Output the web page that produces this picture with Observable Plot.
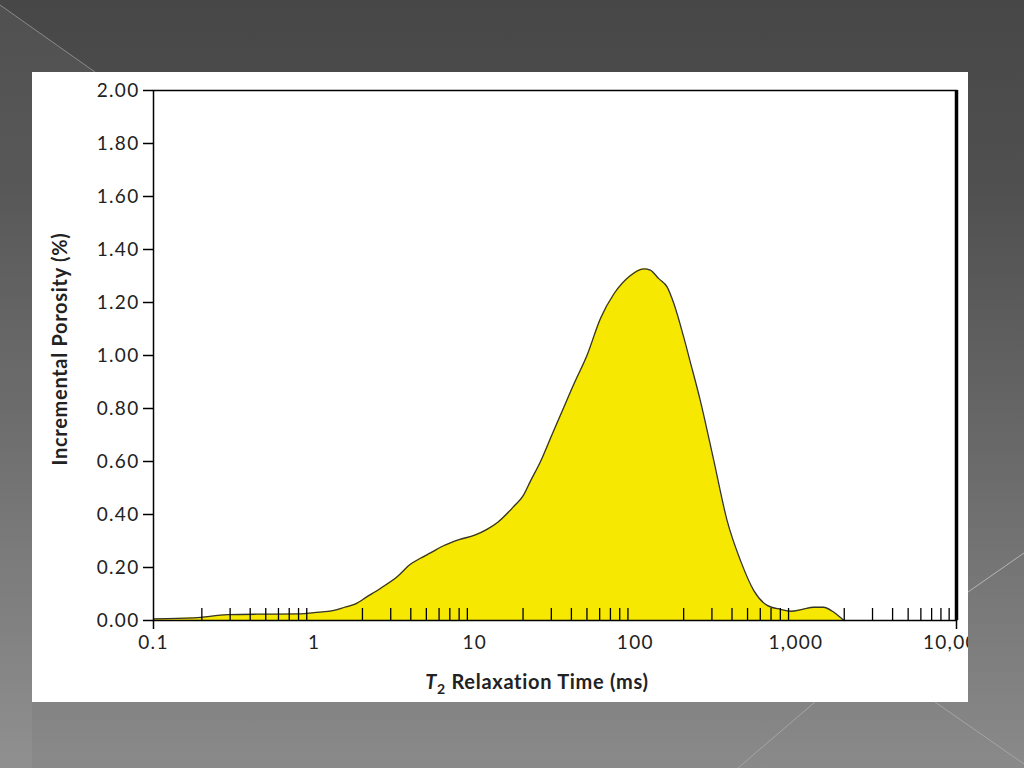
<!DOCTYPE html>
<html>
<head>
<meta charset="utf-8">
<script src="https://cdn.jsdelivr.net/npm/d3@7"></script>
<script src="https://cdn.jsdelivr.net/npm/@observablehq/plot@0.6"></script>
<style>
  html, body { margin: 0; padding: 0; }
  body {
    width: 1024px; height: 768px; position: relative; overflow: hidden;
    background: linear-gradient(180deg, #474747 0%, #505050 25%, #6a6a6a 60%, #8a8a8a 100%);
  }
  #deco { position: absolute; left: 0; top: 0; }
  #panel {
    position: absolute; left: 32px; top: 72px; width: 936px; height: 630px;
    background: #fff; overflow: hidden;
  }
</style>
</head>
<body>
<svg id="deco" width="1024" height="768">
  <polygon points="0,5 95,72 32,72 32,768 0,768" fill="#ffffff" fill-opacity="0.05"/>
  <line x1="0" y1="5" x2="95" y2="72" stroke="#8a8a8a" stroke-width="1"/>
  <line x1="968" y1="592" x2="1024" y2="553" stroke="#b5b5b5" stroke-width="1"/>
  <line x1="815" y1="702" x2="738" y2="768" stroke="#a5a5a5" stroke-width="1"/>
  <line x1="935" y1="702" x2="1024" y2="764" stroke="#a5a5a5" stroke-width="1"/>
</svg>
<div id="panel"></div>
<script>
// Data
const t2Times = [0.1, 0.18, 0.29, 0.5, 0.82, 1.0, 1.33, 1.55, 1.8, 2.14, 2.6, 3.29, 3.98, 4.6, 5.3, 6.4, 8.0, 10, 12, 14, 17.5, 20, 22.2, 25.7, 30, 35.9, 42, 50, 60.7, 73.7, 92.5, 113, 124, 140, 158, 174, 200, 219, 254, 308, 373, 452, 547, 663, 802, 929, 1100, 1291, 1485, 1723, 1941, 2000];
const porosity = [0.006, 0.01, 0.022, 0.024, 0.025, 0.03, 0.038, 0.05, 0.062, 0.09, 0.122, 0.165, 0.212, 0.235, 0.255, 0.282, 0.305, 0.322, 0.345, 0.372, 0.43, 0.47, 0.525, 0.6, 0.695, 0.805, 0.9, 1.0, 1.14, 1.233, 1.30, 1.327, 1.322, 1.29, 1.258, 1.195, 1.07, 0.98, 0.83, 0.604, 0.377, 0.226, 0.113, 0.057, 0.042, 0.035, 0.042, 0.05, 0.05, 0.031, 0.006, 0.0];
const xMajorTicks = [0.1, 1, 10, 100, 1000, 10000];
const xMajorLabels = ["0.1", "1", "10", "100", "1,000", "10,000"];
const xMinorTicks = [];
for (const d of [0.1, 1, 10, 100, 1000]) for (let m = 2; m <= 9; m++) xMinorTicks.push(+(d * m).toPrecision(3));
const xEndTicks = [0.1, 10000];
const yTicks = [0, 0.2, 0.4, 0.6, 0.8, 1.0, 1.2, 1.4, 1.6, 1.8, 2.0];
const yTitle = "Incremental Porosity (%)";

const data = t2Times.map((t, i) => ({t, p: porosity[i]}));

const chart = Plot.plot({
  width: 936,
  height: 630,
  marginLeft: 121,
  marginRight: 12,
  marginTop: 18,
  marginBottom: 82,
  style: {fontFamily: "Lato, 'Open Sans', sans-serif", fontSize: "19px", color: "#222", background: "white"},
  x: {type: "log", domain: [0.1, 10000]},
  y: {domain: [0, 2]},
  marks: [
    Plot.areaY(data, {x: "t", y: "p", fill: "#f6e800", curve: "monotone-x"}),
    Plot.lineY(data, {x: "t", y: "p", stroke: "#333", strokeWidth: 1.3, curve: "monotone-x"}),
    Plot.frame({stroke: "black", strokeWidth: 1.5}),
    Plot.ruleX([10000], {stroke: "black", strokeWidth: 3.5}),
    Plot.axisY(yTicks, {tickSize: 10, tickPadding: 4, tickFormat: d3.format(".2f"), stroke: "black", strokeWidth: 1.5, label: null, fontSize: 19}),
    Plot.axisX(xMinorTicks, {tickSize: 12, dy: -12, tickFormat: () => "", stroke: "black", strokeWidth: 1.3, label: null}),
    Plot.axisX(xEndTicks, {tickSize: 9, tickFormat: () => "", stroke: "black", strokeWidth: 1.5, label: null}),
    Plot.axisX(xMajorTicks, {tickSize: 0, tickPadding: 15, tickFormat: (d) => xMajorLabels[xMajorTicks.indexOf(d)], label: null, fontSize: 19})
  ]
});

document.getElementById("panel").appendChild(chart);

const svg = d3.select(chart);
svg.selectAll('g[aria-label="y-axis tick label"] text, g[aria-label="x-axis tick label"] text')
  .attr("letter-spacing", "1.3px");

svg.append("text")
  .attr("transform", "translate(35,277) rotate(-90)")
  .attr("text-anchor", "middle")
  .attr("font-weight", "bold")
  .attr("font-size", 20)
  .attr("letter-spacing", "0.7px")
  .attr("fill", "#222")
  .text(yTitle);

const xt = svg.append("text")
  .attr("x", 505)
  .attr("y", 617)
  .attr("text-anchor", "middle")
  .attr("font-weight", "bold")
  .attr("font-size", 20)
  .attr("letter-spacing", "0.7px")
  .attr("fill", "#222");
xt.append("tspan").attr("font-style", "italic").text("T");
xt.append("tspan").attr("dy", 5).attr("font-size", 14).text("2");
xt.append("tspan").attr("dy", -5).text(" Relaxation Time (ms)");
</script>
</body>
</html>
